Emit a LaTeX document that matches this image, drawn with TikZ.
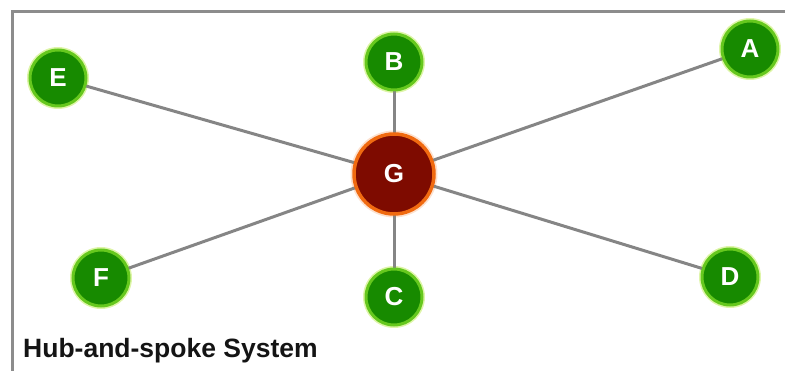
\documentclass[tikz,border=0pt]{standalone}
\usepackage{fontspec}
\setmainfont{Liberation Sans}
\begin{document}
\begin{tikzpicture}[x=1pt,y=-1pt,
  spoke/.style={draw=spokegray,line width=3pt},
  leaf/.style={circle,minimum size=56pt,inner sep=0pt,fill=leafgreen,draw=ringgreen,line width=3pt,
    text=white,font=\fontsize{26}{26}\selectfont\bfseries},
  hub/.style={circle,minimum size=80pt,inner sep=0pt,fill=hubred,draw=ringorange,line width=3.5pt,
    text=white,font=\fontsize{26}{26}\selectfont\bfseries},
  glow/.style={circle,minimum size=#1,inner sep=0pt,fill=glowgreen,fill opacity=0.35,draw=none}]
\definecolor{spokegray}{HTML}{858585}
\definecolor{leafgreen}{HTML}{178A00}
\definecolor{ringgreen}{HTML}{66C81E}
\definecolor{glowgreen}{HTML}{C8EE70}
\definecolor{hubred}{HTML}{7E0B00}
\definecolor{ringorange}{HTML}{F06A10}
\definecolor{frameg}{HTML}{8C8C8C}
\useasboundingbox (0,0) rectangle (785,371);
\begin{scope}
\clip (0,0) rectangle (785,371);
\draw[frameg,line width=3pt] (12,12) rectangle (800,390);
\end{scope}
% glows
\fill[ringorange!40,opacity=0.5] (394,174) circle (43.5);
\foreach \p in {(394,62),(394,297),(58,78),(750,49),(730,277),(101,278)}
  \fill[glowgreen,opacity=0.6] \p circle (31);
% spokes
\coordinate (g0) at (394,174);
\coordinate (a0) at (750,49);
\coordinate (b0) at (394,62);
\coordinate (c0) at (394,297);
\coordinate (d0) at (730,277);
\coordinate (e0) at (58,78);
\coordinate (f0) at (101,278);
\foreach \n in {a0,b0,c0,d0,e0,f0} \draw[spoke] (g0) -- (\n);
% nodes
\node[hub] (G) at (g0) {G};
\node[leaf] (A) at (a0) {A};
\node[leaf] (B) at (b0) {B};
\node[leaf] (C) at (c0) {C};
\node[leaf] (D) at (d0) {D};
\node[leaf] (E) at (e0) {E};
\node[leaf] (F) at (f0) {F};
\node[anchor=base west,inner sep=0pt,text=black!92,font=\fontsize{26.5}{28}\selectfont\bfseries] (title) at (23,358) {Hub-and-spoke System};
\end{tikzpicture}
\end{document}
